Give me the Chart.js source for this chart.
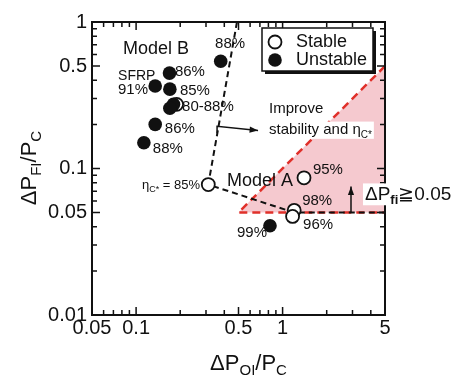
<!DOCTYPE html>
<html>
<head>
<meta charset="utf-8">
<script src="https://cdn.jsdelivr.net/npm/chart.js@4.4.1/dist/chart.umd.min.js"></script>
<style>
body{margin:0;background:#fff}
</style>
</head>
<body>
<canvas id="grafico" width="453" height="375"></canvas>
<script>

/* DADOS */

// [dPOI/PC, dPFI/PC]
const stable = [[0.311,0.0777],[1.40,0.0864],[1.20,0.0518],[1.17,0.0471],[0.189,0.274]]
const unstable = [[0.378,0.54],[0.169,0.448],[0.135,0.366],[0.170,0.348],[0.180,0.274],[0.170,0.258],[0.135,0.2],[0.113,0.15],[0.82,0.0407]]

// design trend line and the dPfi >= 0.05 region
const trend = [[0.488,1],[0.311,0.0777],[1.2,0.05],[5,0.05]]
const region = [[5,0.5],[0.5,0.05],[5,0.05]]

const xTicks = [0.05,0.1,0.5,1,5]
const yTicks = [0.01,0.05,0.1,0.5,1]

// [texto, x, y, alinhamento, tamanho]
const labels = [
    ["Model B",0.0814,0.653,"left",18],
    ["SFRP",0.0753,0.425,"left",14],
    ["91%",0.1206,0.345,"right",15],
    ["86%",0.184,0.455,"left",15],
    ["85%",0.199,0.337,"left",15],
    ["80-88%",0.206,0.262,"left",15],
    ["86%",0.157,0.185,"left",15],
    ["88%",0.130,0.137,"left",15],
    ["88%",0.346,0.707,"left",15],
    ["Model A",0.417,0.0815,"left",18],
    ["95%",1.61,0.0984,"left",15],
    ["98%",1.36,0.0604,"left",15],
    ["96%",1.38,0.0413,"left",15],
    ["99%",0.488,0.0365,"left",15],
    ["Improve",0.808,0.254,"left",15]
]

const FONT = "'Liberation Sans', Arial, sans-serif"


/* FUNCOES */

function allTicks(lo, hi){
    let out = []
    for(let d = 0.01; d <= hi; d *= 10){
        for(let k = 1; k < 10; k++){
            let v = +(k*d).toPrecision(3)
            if(v >= lo && v <= hi) out.push(v)
        }
    }
    return out
}

function isMajor(v, list){
    return list.includes(v) || [0.01,0.1,1,10].includes(v)
}

// text made of pieces [texto, tamanho, deslocamento]
function rich(ctx, parts, x, y, align, bg){
    let w = 0
    parts.forEach(p => {
        ctx.font = (p[3] || "") + " " + p[1] + "px " + FONT
        p.w = ctx.measureText(p[0]).width
        w += p.w
    })
    let cx = align == "center" ? x - w/2 : align == "right" ? x - w : x
    if(bg){
        ctx.fillStyle = "#fff"
        ctx.fillRect(cx - 2, y - parts[0][1]*0.85, w + 4, parts[0][1]*1.15)
    }
    ctx.fillStyle = "#111"
    ctx.textAlign = "left"
    ctx.textBaseline = "alphabetic"
    parts.forEach(p => {
        ctx.font = (p[3] || "") + " " + p[1] + "px " + FONT
        ctx.fillText(p[0], cx, y + (p[2] || 0))
        cx += p.w
    })
}

function arrowHead(ctx, x0, y0, x1, y1){
    let a = Math.atan2(y1 - y0, x1 - x0)
    ctx.beginPath()
    ctx.moveTo(x1, y1)
    ctx.lineTo(x1 - 9*Math.cos(a - 0.35), y1 - 9*Math.sin(a - 0.35))
    ctx.lineTo(x1 - 9*Math.cos(a + 0.35), y1 - 9*Math.sin(a + 0.35))
    ctx.closePath()
    ctx.fill()
}


/* DESENHO EXTRA */

const decor = {
    id: "decor",

    beforeDatasetsDraw(chart){
        const {ctx, scales:{x, y}} = chart
        ctx.save()
        ctx.beginPath()
        region.forEach((p, i) => {
            let px = x.getPixelForValue(p[0]), py = y.getPixelForValue(p[1])
            i ? ctx.lineTo(px, py) : ctx.moveTo(px, py)
        })
        ctx.closePath()
        ctx.fillStyle = "#f5c9cf"
        ctx.fill()
        ctx.restore()
    },

    afterDatasetsDraw(chart){
        const {ctx, chartArea:a, scales:{x, y}} = chart
        const X = v => x.getPixelForValue(v)
        const Y = v => y.getPixelForValue(v)
        ctx.save()

        // moldura e ticks para dentro
        ctx.strokeStyle = "#111"
        ctx.lineWidth = 2
        ctx.strokeRect(a.left, a.top, a.right - a.left, a.bottom - a.top)
        ctx.lineWidth = 1.5
        ctx.beginPath()
        allTicks(0.05, 5).forEach(v => {
            let len = isMajor(v, xTicks) ? 8 : 5
            let px = X(v)
            ctx.moveTo(px, a.bottom); ctx.lineTo(px, a.bottom - len)
            ctx.moveTo(px, a.top); ctx.lineTo(px, a.top + len)
        })
        allTicks(0.01, 1).forEach(v => {
            let len = isMajor(v, yTicks) ? 8 : 5
            let py = Y(v)
            ctx.moveTo(a.left, py); ctx.lineTo(a.left + len, py)
            ctx.moveTo(a.right, py); ctx.lineTo(a.right - len, py)
        })
        ctx.stroke()

        // setas
        ctx.fillStyle = "#111"
        ctx.lineWidth = 1.5
        ctx.beginPath()
        ctx.moveTo(X(0.357), Y(0.174))
        ctx.lineTo(X(0.357), Y(0.194))
        ctx.lineTo(X(0.68), Y(0.182))
        ctx.stroke()
        arrowHead(ctx, X(0.357), Y(0.194), X(0.68), Y(0.182))
        ctx.beginPath()
        ctx.moveTo(X(2.93), Y(0.05))
        ctx.lineTo(X(2.93), Y(0.0753))
        ctx.stroke()
        arrowHead(ctx, X(2.93), Y(0.05), X(2.93), Y(0.0753))

        // textos
        labels.forEach(l => {
            ctx.font = l[4] + "px " + FONT
            ctx.fillStyle = "#111"
            ctx.textAlign = l[3]
            ctx.textBaseline = "middle"
            ctx.fillText(l[0], X(l[1]), Y(l[2]))
        })
        rich(ctx, [["stability and ",15],["\u03b7",15],["C*",10,4]], X(0.808), Y(0.188) + 6, "left", true)
        rich(ctx, [["\u03b7",13],["C*",9,3],[" = 85%",13]], X(0.273), Y(0.0789) + 5, "right")
        rich(ctx, [["\u0394P",19],["fi",13,4,"bold"],["\u2267",19],["0.05",19]], X(3.65), Y(0.0685) + 7, "left", true)

        // legenda
        ctx.fillStyle = "#111"
        ctx.fillRect(265, 31, 111, 43)
        ctx.fillStyle = "#fff"
        ctx.fillRect(262, 28, 111, 43)
        ctx.lineWidth = 1.5
        ctx.strokeRect(262, 28, 111, 43)
        ctx.lineWidth = 1.8
        ctx.beginPath()
        ctx.arc(275, 42, 6.5, 0, Math.PI*2)
        ctx.stroke()
        ctx.fillStyle = "#111"
        ctx.beginPath()
        ctx.arc(275, 60, 6.8, 0, Math.PI*2)
        ctx.fill()
        ctx.font = "18px " + FONT
        ctx.textAlign = "left"
        ctx.textBaseline = "middle"
        ctx.fillText("Stable", 296, 42)
        ctx.fillText("Unstable", 296, 60)

        // titulos dos eixos
        rich(ctx, [["\u0394P",22],["OI",15,5],["/P",22],["C",15,5]], (a.left + a.right)/2 + 10, 370, "center")
        ctx.translate(36, 168)
        ctx.rotate(-Math.PI/2)
        rich(ctx, [["\u0394P",22],["FI",15,5],["/P",22],["C",15,5]], 0, 0, "center")

        ctx.restore()
    }
}


/* GRAFICO */

const pts = arr => arr.map(p => ({x:p[0], y:p[1]}))

new Chart(document.getElementById("grafico"),{

    type:"scatter",

    data:{
        datasets:[
            {
                label:"Unstable",
                data:pts(unstable),
                pointRadius:6.8,
                pointBackgroundColor:"#111",
                pointBorderColor:"#111",
                pointBorderWidth:0
            },
            {
                label:"Stable",
                data:pts(stable),
                pointRadius:6.5,
                pointBackgroundColor:"#fff",
                pointBorderColor:"#111",
                pointBorderWidth:1.8
            },
            {
                label:"trend",
                data:pts(trend),
                showLine:true,
                pointRadius:0,
                borderColor:"#111",
                borderWidth:2,
                borderDash:[6,4]
            },
            {
                label:"region",
                data:pts(region),
                showLine:true,
                pointRadius:0,
                borderColor:"#e0302a",
                borderWidth:2.5,
                borderDash:[8,5]
            }
        ]
    },

    options:{
        responsive:false,
        animation:false,
        devicePixelRatio:1,
        layout:{padding:{top:22,right:68,left:0,bottom:0}},
        plugins:{legend:{display:false}, tooltip:{enabled:false}},
        scales:{
            x:{
                type:"logarithmic",
                min:0.05,
                max:5,
                grid:{display:false, drawTicks:false},
                border:{display:false},
                afterBuildTicks:s => { s.ticks = xTicks.map(v => ({value:v})) },
                afterFit:s => { s.height = 60 },
                ticks:{
                    autoSkip:false,
                    maxRotation:0,
                    padding:1,
                    color:"#111",
                    font:{family:FONT, size:20},
                    callback:v => String(v)
                }
            },
            y:{
                type:"logarithmic",
                min:0.01,
                max:1,
                grid:{display:false, drawTicks:false},
                border:{display:false},
                afterBuildTicks:s => { s.ticks = yTicks.map(v => ({value:v})) },
                afterFit:s => { s.width = 92 },
                ticks:{
                    autoSkip:false,
                    padding:5,
                    color:"#111",
                    font:{family:FONT, size:20},
                    callback:v => String(v)
                }
            }
        }
    },

    plugins:[decor]

})

</script>
</body>
</html>
